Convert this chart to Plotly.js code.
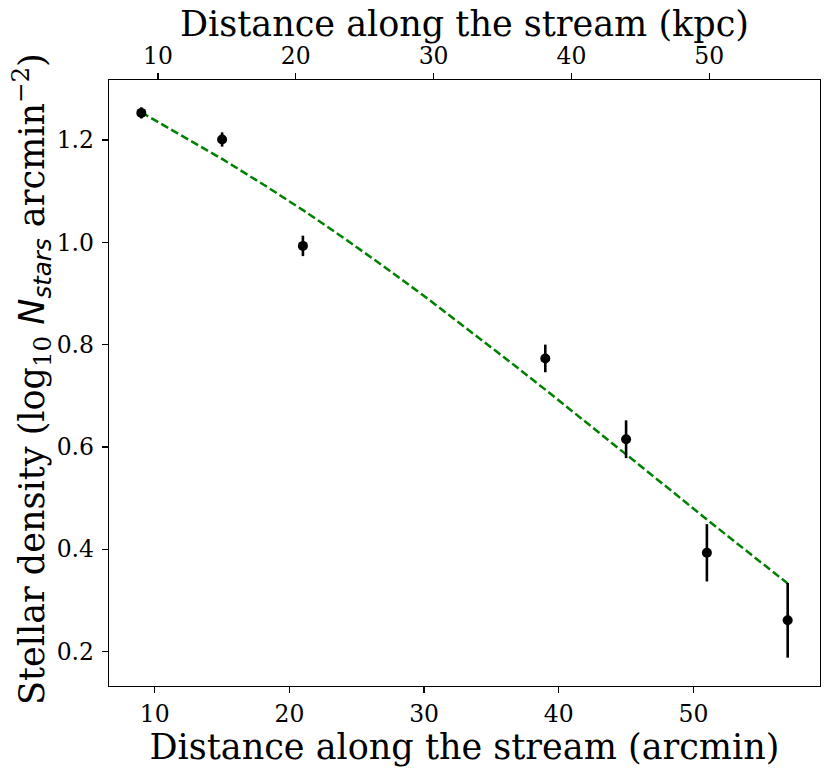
<!DOCTYPE html>
<html>
<head>
<meta charset="utf-8">
<script src="https://cdn.plot.ly/plotly-3.0.1.min.js"></script>
<style>html,body{margin:0;padding:0;background:#fff;}#chart{width:831px;height:774px;}</style>
</head>
<body>
<div id="chart"></div>
<script>
// Observed stellar density along the stream
const arcmin = [9, 15, 21, 39, 45, 51, 57];
const density = [1.253, 1.201, 0.993, 0.773, 0.615, 0.393, 0.261];
const densityErr = [0.011, 0.014, 0.020, 0.027, 0.037, 0.056, 0.073];

// Model curve (green dashed)
const modelArcmin = [9, 12, 15, 18, 21, 24, 27, 30, 33, 36, 39, 42, 45, 48, 51, 54, 57];
const modelDensity = [1.254, 1.209, 1.163, 1.114, 1.063, 1.009, 0.953, 0.895, 0.835,
                      0.774, 0.712, 0.649, 0.586, 0.522, 0.458, 0.395, 0.333];

// Tick labels
const arcminTicks = [10, 20, 30, 40, 50];
const kpcTicks = [10, 20, 30, 40, 50];
const densityTicks = [0.2, 0.4, 0.6, 0.8, 1.0, 1.2];

// Axis limits
const arcminRange = [6.6, 59.4];
const kpcPerArcmin = 0.977;
const kpcRange = [arcminRange[0] * kpcPerArcmin, arcminRange[1] * kpcPerArcmin];
const densityRange = [0.1326, 1.3173];

// Titles
const xTitle = 'Distance along the stream (arcmin)';
const x2Title = 'Distance along the stream (kpc)';
const yTitle = 'Stellar density (log<sub>10</sub> <span style="font-family:DejaVu Sans;font-style:italic">N<sub>stars</sub></span> arcmin<sup>−2</sup>)';

const serif = "DejaVu Serif, Liberation Serif, serif";

const traces = [
  {
    x: modelArcmin, y: modelDensity, type: 'scatter', mode: 'lines',
    line: {color: '#008000', width: 2.5, dash: '8px,3.5px'},
    hoverinfo: 'skip', showlegend: false
  },
  {
    x: arcmin, y: density, type: 'scatter', mode: 'markers',
    marker: {color: '#000000', size: 10},
    error_y: {type: 'data', array: densityErr, visible: true, color: '#000000', thickness: 2.6, width: 0},
    showlegend: false
  },
  {
    x: kpcTicks, y: kpcTicks.map(() => 0.7), xaxis: 'x2', yaxis: 'y',
    type: 'scatter', mode: 'markers', marker: {opacity: 0}, hoverinfo: 'skip', showlegend: false
  }
];

const axisCommon = {
  showgrid: false, zeroline: false, ticks: 'outside', ticklen: 6, tickwidth: 1.3,
  tickcolor: '#000', linecolor: '#000', linewidth: 1.3,
  tickfont: {family: serif, size: 23.5, color: '#000'}
};

const titleFont = {family: serif, size: 35, color: '#000'};

const layout = {
  width: 831, height: 774,
  margin: {l: 109, r: 11, t: 80, b: 88},
  paper_bgcolor: '#fff', plot_bgcolor: '#fff',
  font: {family: serif, color: '#000'},
  xaxis: Object.assign({}, axisCommon, {
    range: arcminRange, tickvals: arcminTicks, ticktext: arcminTicks.map(String),
    showline: true, mirror: true, ticklabelstandoff: 0,
    title: {text: xTitle, font: titleFont, standoff: 4}
  }),
  xaxis2: Object.assign({}, axisCommon, {
    range: kpcRange, tickvals: kpcTicks, ticktext: kpcTicks.map(String),
    overlaying: 'x', side: 'top', anchor: 'y', showline: false, ticklabelstandoff: 0
  }),
  yaxis: Object.assign({}, axisCommon, {
    range: densityRange, tickvals: densityTicks, ticktext: densityTicks.map(v => v.toFixed(1)),
    showline: true, mirror: true, ticklabelstandoff: 3
  }),
  annotations: [
    {
      text: x2Title, xref: 'paper', yref: 'paper', x: 0.5, y: 1 + (80 - 24) / 606,
      xanchor: 'center', yanchor: 'middle', showarrow: false, font: titleFont, borderpad: 0
    },
    {
      text: yTitle, xref: 'paper', yref: 'paper', x: (31 - 109) / 711, y: (686 - 379) / 606,
      xanchor: 'center', yanchor: 'middle', textangle: -90, showarrow: false, font: titleFont
    }
  ]
};

Plotly.newPlot('chart', traces, layout, {displayModeBar: false, staticPlot: true});
</script>
</body>
</html>
